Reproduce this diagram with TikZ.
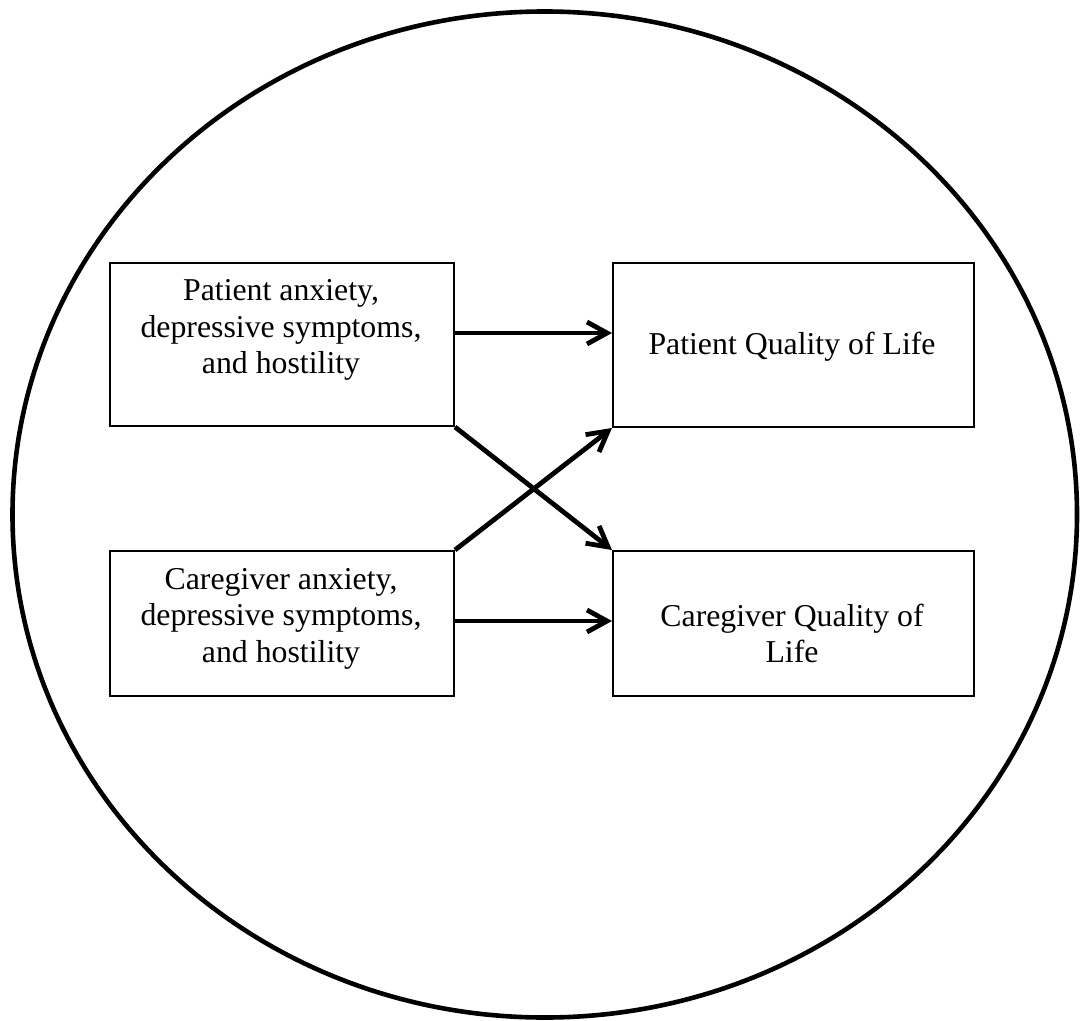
\documentclass[tikz,border=0pt]{standalone}
\usepackage{fontspec}
\setmainfont{Liberation Serif}
\usetikzlibrary{arrows.meta}
\begin{document}
\begin{tikzpicture}[x=0.5pt,y=-0.5pt,
  boxnode/.style={draw=black,line width=1pt,rectangle,inner sep=0pt,anchor=north west},
  txt/.style={anchor=base,inner sep=0pt,font=\fontsize{15.9pt}{18.3pt}\selectfont},
  link/.style={line width=2.4pt,-{Straight Barb[length=10pt,width=11pt,line width=2.4pt]}}]
\useasboundingbox (0,0) rectangle (1080,1021);
\draw[line width=2.3pt] (544.75,514.5) ellipse [x radius=532.25, y radius=503];
% boxes
\node[boxnode,minimum width=172pt,minimum height=81.5pt] (pa) at (109,262) {};
\node[boxnode,minimum width=180.5pt,minimum height=82pt] (pq) at (612,262) {};
\node[boxnode,minimum width=172pt,minimum height=72.5pt] (ca) at (109,550) {};
\node[boxnode,minimum width=180.5pt,minimum height=72.5pt] (cq) at (612,550) {};
% texts
\node[txt] (pa1) at (281,300) {Patient anxiety,};
\node[txt] (pa2) at (281,337) {depressive symptoms,};
\node[txt] (pa3) at (281,373) {and hostility};
\node[txt] (pq1) at (792,355) {Patient Quality of Life};
\node[txt] (ca1) at (281,589) {Caregiver anxiety,};
\node[txt] (ca2) at (281,625) {depressive symptoms,};
\node[txt] (ca3) at (281,662) {and hostility};
\node[txt] (cq1) at (792,626) {Caregiver Quality of};
\node[txt] (cq2) at (792,662) {Life};
% connectors
\coordinate (ya) at (0,333);
\coordinate (yb) at (0,621);
\draw[link] (pa.east |- ya) -- (pq.west |- ya);
\draw[link] (ca.east |- yb) -- (cq.west |- yb);
\draw[link] (pa.south east) -- (cq.north west);
\draw[link] (ca.north east) -- (pq.south west);
\end{tikzpicture}
\end{document}
